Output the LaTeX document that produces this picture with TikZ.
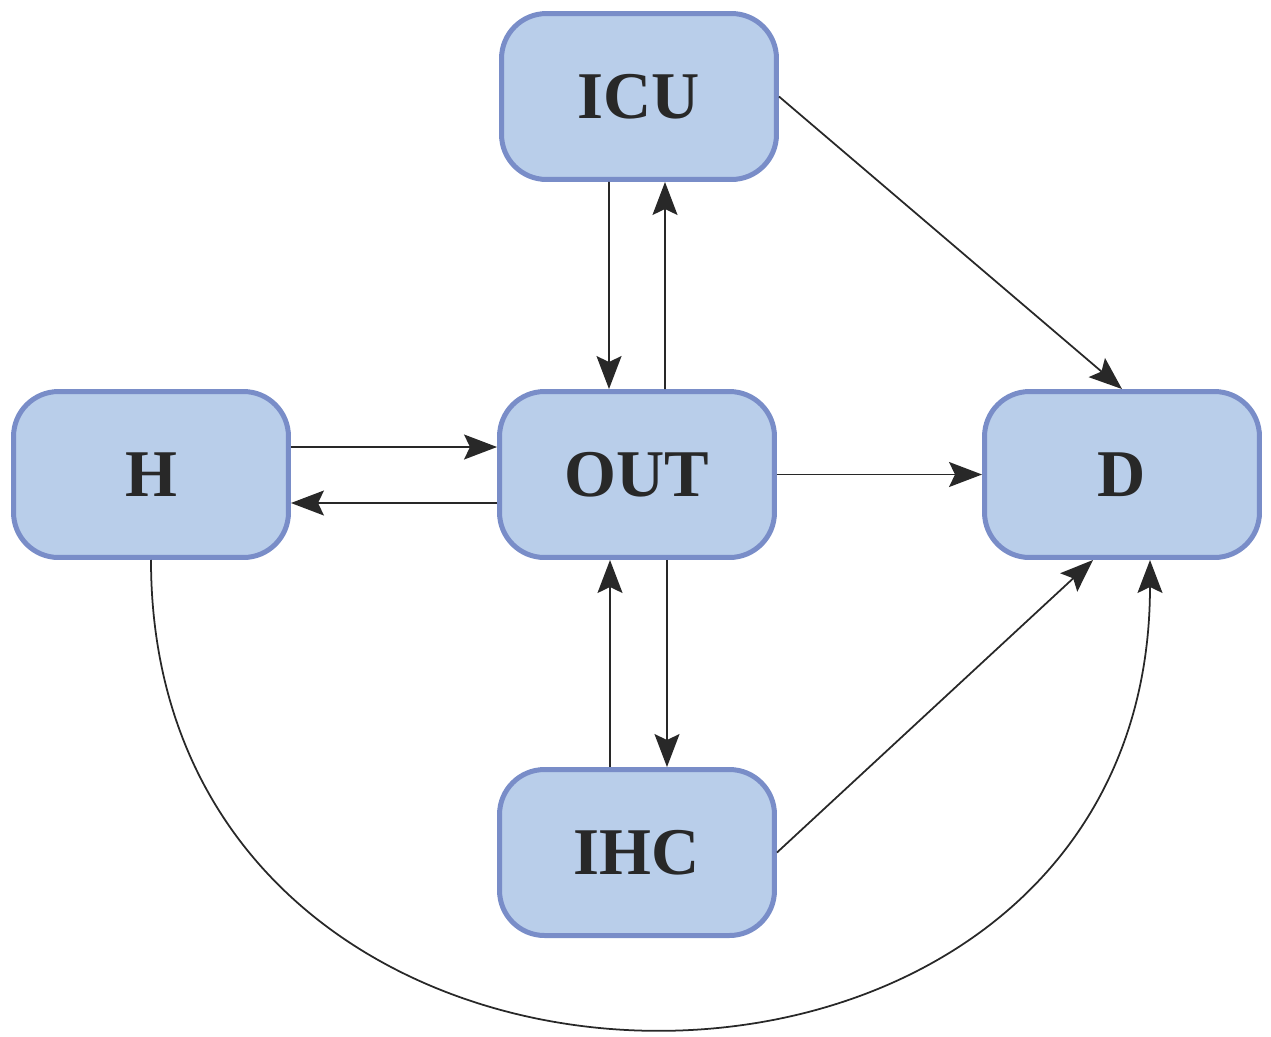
\documentclass[tikz,border=0pt]{standalone}
\usepackage{fontspec}
\setmainfont{Liberation Serif}[BoldFont={Liberation Serif Bold}]
\usepackage{tikz}
\usetikzlibrary{arrows.meta}
\definecolor{boxfill}{RGB}{185,206,234}
\definecolor{boxline}{RGB}{121,141,200}
\definecolor{ink}{RGB}{40,40,40}

\begin{document}
\begin{tikzpicture}[x=0.02cm, y=-0.02cm,
    state/.style={draw=boxline, fill=boxfill, line width=0.1cm, rounded corners=0.9cm,
      minimum width=5.5cm, minimum height=3.32cm, text=ink,
      font=\bfseries\fontsize{38}{44}\selectfont},
    arr/.style={draw=ink, line width=1pt,
      -{Stealth[length=0.66cm, width=0.5cm, inset=0.12cm]}}]
     \useasboundingbox (0,0) rectangle (1271,1036);
      \node[state] (icu) at (639,96.5) {ICU};
      \node[state] (h)   at (151,474.5) {H};
      \node[state] (out) at (637,474.5) {OUT};
      \node[state] (d)   at (1122,474.5) {D};
      \node[state] (ihc) at (637,852.5) {IHC};
      \draw[arr] ([xshift=-0.6cm]icu.south) -- ([xshift=-0.56cm]out.north);
      \draw[arr] ([xshift=0.56cm]out.north) -- ([xshift=0.52cm]icu.south);
      \draw[arr] ([yshift=0.55cm]h.east) -- ([yshift=0.55cm]out.west);
      \draw[arr] ([yshift=-0.57cm]out.west) -- ([yshift=-0.57cm]h.east);
      \draw[arr] (out.east) -- (d.west);
      \draw[arr] (icu.east) -- (d.north);
      \draw[arr] ([xshift=0.6cm]out.south) -- ([xshift=0.6cm]ihc.north);
      \draw[arr] ([xshift=-0.54cm]ihc.north) -- ([xshift=-0.54cm]out.south);
      \draw[arr] (ihc.east) -- ([xshift=-0.58cm]d.south);
      \draw[arr] (h.south) to[out=-90, in=-90, looseness=1.6] ([xshift=0.56cm]d.south);
    \end{tikzpicture}
\end{document}
